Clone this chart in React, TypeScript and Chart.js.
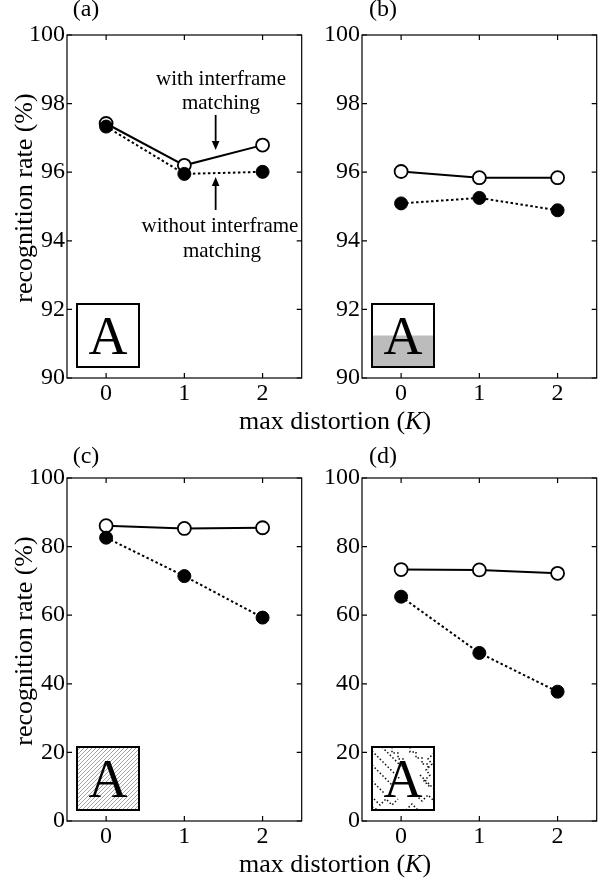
import React, { useEffect, useRef } from 'react';
import { Chart, registerables } from 'chart.js';

Chart.register(...registerables);

const FONT = '"Liberation Serif", "Times New Roman", serif';

// ---- data ----
const K_VALUES = [0, 1, 2];
const X_TICKS = [0, 1, 2];
const Y_TICKS_TOP = [90, 92, 94, 96, 98, 100];
const Y_TICKS_BOTTOM = [0, 20, 40, 60, 80, 100];

const A_WITH = [97.42, 96.2, 96.79];
const A_WITHOUT = [97.33, 95.95, 96.01];
const B_WITH = [96.02, 95.84, 95.84];
const B_WITHOUT = [95.09, 95.25, 94.89];
const C_WITH = [86.1, 85.3, 85.5];
const C_WITHOUT = [82.6, 71.4, 59.3];
const D_WITH = [73.3, 73.2, 72.2];
const D_WITHOUT = [65.4, 49.0, 37.7];

const PANEL_LABELS = ['(a)', '(b)', '(c)', '(d)'];
const Y_TITLE = 'recognition rate (%)';
const ANNOT_WITH = ['with interframe', 'matching'];
const ANNOT_WITHOUT = ['without interframe', 'matching'];
// arrows in (a): [x, from y, to y (tip)]
const ARROWS_A = [
  [1.4, 97.67, 96.65],
  [1.4, 94.9, 95.86],
];

type PanelCfg = {
  left: number; top: number; w: number; h: number;
  padTop: number; padRight: number; yAxisW: number; xAxisH: number;
  yMin: number; yMax: number; yTicks: number[];
  withData: number[]; withoutData: number[];
  inset: string; arrows: number[][];
};

const PANELS: PanelCfg[] = [
  { left: 0, top: 0, w: 310, h: 440, padTop: 35, padRight: 3, yAxisW: 67, xAxisH: 62, yMin: 90, yMax: 100, yTicks: Y_TICKS_TOP, withData: A_WITH, withoutData: A_WITHOUT, inset: 'plain', arrows: ARROWS_A },
  { left: 295, top: 0, w: 310, h: 440, padTop: 35, padRight: 3, yAxisW: 67, xAxisH: 62, yMin: 90, yMax: 100, yTicks: Y_TICKS_TOP, withData: B_WITH, withoutData: B_WITHOUT, inset: 'gray', arrows: [] },
  { left: 0, top: 443, w: 310, h: 435, padTop: 35, padRight: 3, yAxisW: 67, xAxisH: 57, yMin: 0, yMax: 100, yTicks: Y_TICKS_BOTTOM, withData: C_WITH, withoutData: C_WITHOUT, inset: 'hatch', arrows: [] },
  { left: 295, top: 443, w: 310, h: 435, padTop: 35, padRight: 3, yAxisW: 67, xAxisH: 57, yMin: 0, yMax: 100, yTicks: Y_TICKS_BOTTOM, withData: D_WITH, withoutData: D_WITHOUT, inset: 'maze', arrows: [] },
];

const MAZE_PATHS = [
  [[0, 4], [28, 32]],
  [[0, 18], [20, 38]],
  [[0, 34], [12, 46]],
  [[20, 0], [20, 6], [26, 6], [26, 12], [32, 12], [32, 18]],
  [[38, 0], [38, 5], [44, 5], [44, 11], [50, 11], [50, 17], [56, 17], [56, 23]],
  [[62, 6], [56, 12], [60, 17], [54, 23], [58, 28], [52, 34], [58, 40]],
  [[2, 52], [8, 58], [14, 52], [20, 58], [26, 52]],
  [[34, 63], [40, 57], [46, 63]],
  [[44, 48], [50, 54], [56, 48], [62, 54]],
  [[10, 0], [36, 26]],
  [[0, 60], [6, 63]],
  [[48, 28], [62, 42]],
];

function drawInset(ctx: CanvasRenderingContext2D, ca: any, kind: string) {
  const bw = 62, bh = 63;
  const bx = ca.left + 10;
  const by = ca.bottom - 11 - bh;
  ctx.save();
  ctx.fillStyle = '#fff';
  ctx.fillRect(bx, by, bw, bh);
  ctx.beginPath();
  ctx.rect(bx, by, bw, bh);
  ctx.clip();
  if (kind === 'gray') {
    ctx.fillStyle = '#bcbcbc';
    ctx.fillRect(bx, by + bh / 2, bw, bh / 2);
  } else if (kind === 'hatch') {
    ctx.strokeStyle = '#8a8a8a';
    ctx.lineWidth = 0.8;
    ctx.beginPath();
    for (let d = -bh; d < bw + 4; d += 4) {
      ctx.moveTo(bx + d, by + bh);
      ctx.lineTo(bx + d + bh, by);
    }
    ctx.stroke();
  } else if (kind === 'maze') {
    ctx.strokeStyle = '#111';
    ctx.lineWidth = 1.5;
    ctx.setLineDash([1.5, 2.2]);
    for (const p of MAZE_PATHS) {
      ctx.beginPath();
      p.forEach(([px, py], i) => {
        if (i === 0) ctx.moveTo(bx + px, by + py);
        else ctx.lineTo(bx + px, by + py);
      });
      ctx.stroke();
    }
    ctx.setLineDash([]);
  }
  ctx.fillStyle = '#000';
  ctx.font = `54px ${FONT}`;
  ctx.textAlign = 'center';
  ctx.textBaseline = 'alphabetic';
  ctx.fillText('A', bx + bw / 2, by + bh - 13);
  ctx.restore();
  ctx.save();
  ctx.lineWidth = 2;
  ctx.strokeStyle = '#000';
  ctx.strokeRect(bx, by, bw, bh);
  ctx.restore();
}

const decorPlugin = {
  id: 'panelDecor',
  beforeDatasetsDraw(chart: any, _args: any, opts: any) {
    const ctx = chart.ctx as CanvasRenderingContext2D;
    const ca = chart.chartArea;
    const xs = chart.scales.x;
    const ys = chart.scales.y;
    ctx.save();
    ctx.strokeStyle = '#000';
    ctx.lineWidth = 1.2;
    ctx.strokeRect(ca.left, ca.top, ca.right - ca.left, ca.bottom - ca.top);
    const tl = 5;
    ctx.beginPath();
    for (const t of xs.ticks) {
      const px = xs.getPixelForValue(t.value);
      ctx.moveTo(px, ca.bottom); ctx.lineTo(px, ca.bottom - tl);
      ctx.moveTo(px, ca.top); ctx.lineTo(px, ca.top + tl);
    }
    for (const t of ys.ticks) {
      const py = ys.getPixelForValue(t.value);
      ctx.moveTo(ca.left, py); ctx.lineTo(ca.left + tl, py);
      ctx.moveTo(ca.right, py); ctx.lineTo(ca.right - tl, py);
    }
    ctx.stroke();
    ctx.restore();
    drawInset(ctx, ca, opts.inset);
  },
  afterDatasetsDraw(chart: any, _args: any, opts: any) {
    const arrows: number[][] = opts.arrows || [];
    if (!arrows.length) return;
    const ctx = chart.ctx as CanvasRenderingContext2D;
    const xs = chart.scales.x;
    const ys = chart.scales.y;
    ctx.save();
    ctx.strokeStyle = '#000';
    ctx.fillStyle = '#000';
    ctx.lineWidth = 1.8;
    for (const [x, y0, y1] of arrows) {
      const px = xs.getPixelForValue(x);
      const p0 = ys.getPixelForValue(y0);
      const p1 = ys.getPixelForValue(y1);
      const dir = p1 > p0 ? 1 : -1;
      const head = 9;
      ctx.beginPath();
      ctx.moveTo(px, p0);
      ctx.lineTo(px, p1 - dir * head);
      ctx.stroke();
      ctx.beginPath();
      ctx.moveTo(px, p1);
      ctx.lineTo(px - 3.8, p1 - dir * head);
      ctx.lineTo(px + 3.8, p1 - dir * head);
      ctx.closePath();
      ctx.fill();
    }
    ctx.restore();
  },
};

function Panel({ cfg }: { cfg: PanelCfg }) {
  const ref = useRef<HTMLCanvasElement | null>(null);
  useEffect(() => {
    if (!ref.current) return;
    const tickFont = { family: FONT, size: 24 };
    const chart = new Chart(ref.current, {
      type: 'line',
      data: {
        datasets: [
          {
            label: 'without interframe matching',
            data: K_VALUES.map((k, i) => ({ x: k, y: cfg.withoutData[i] })),
            borderColor: '#000',
            borderWidth: 2,
            borderDash: [2.5, 2.5],
            pointRadius: 6.5,
            pointBackgroundColor: '#000',
            pointBorderColor: '#000',
            pointBorderWidth: 1,
            order: 0,
            clip: false,
          } as any,
          {
            label: 'with interframe matching',
            data: K_VALUES.map((k, i) => ({ x: k, y: cfg.withData[i] })),
            borderColor: '#000',
            borderWidth: 2,
            pointRadius: 6.5,
            pointBackgroundColor: '#fff',
            pointBorderColor: '#000',
            pointBorderWidth: 1.8,
            order: 1,
            clip: false,
          } as any,
        ],
      },
      options: {
        responsive: false,
        animation: false,
        devicePixelRatio: 1,
        layout: { padding: { left: 0, top: cfg.padTop, right: cfg.padRight, bottom: 0 } },
        plugins: {
          legend: { display: false },
          tooltip: { enabled: false },
          panelDecor: { inset: cfg.inset, arrows: cfg.arrows },
        } as any,
        scales: {
          x: {
            type: 'linear',
            min: -0.5,
            max: 2.5,
            afterBuildTicks: (s: any) => { s.ticks = X_TICKS.map((v) => ({ value: v })); },
            afterFit: (s: any) => {
              s.height = cfg.xAxisH;
              s.paddingLeft = 0; s.paddingRight = 0; s.paddingTop = 0; s.paddingBottom = 0;
            },
            grid: { display: false, drawTicks: false },
            border: { display: false },
            ticks: { font: tickFont, color: '#000', padding: 1, maxRotation: 0, autoSkip: false },
          },
          y: {
            type: 'linear',
            min: cfg.yMin,
            max: cfg.yMax,
            afterBuildTicks: (s: any) => { s.ticks = cfg.yTicks.map((v) => ({ value: v })); },
            afterFit: (s: any) => {
              s.width = cfg.yAxisW;
              s.paddingLeft = 0; s.paddingRight = 0; s.paddingTop = 0; s.paddingBottom = 0;
            },
            grid: { display: false, drawTicks: false },
            border: { display: false },
            ticks: { font: tickFont, color: '#000', padding: 2, autoSkip: false },
          },
        },
      } as any,
      plugins: [decorPlugin as any],
    });
    return () => chart.destroy();
  }, []);
  return (
    <canvas
      ref={ref}
      width={cfg.w}
      height={cfg.h}
      style={{ position: 'absolute', left: cfg.left, top: cfg.top, width: cfg.w, height: cfg.h }}
    />
  );
}

function Txt({ x, y, size, rotate, children }: { x: number; y: number; size: number; rotate?: boolean; children: any }) {
  return (
    <div
      style={{
        position: 'absolute',
        left: x,
        top: y,
        transform: `translate(-50%, -50%)${rotate ? ' rotate(-90deg)' : ''}`,
        fontFamily: FONT,
        fontSize: size,
        lineHeight: 1,
        whiteSpace: 'nowrap',
        color: '#000',
      }}
    >
      {children}
    </div>
  );
}

export default function App() {
  return (
    <div style={{ position: 'absolute', left: 0, top: 0, width: 605, height: 878, overflow: 'hidden', background: '#fff' }}>
      {PANELS.map((p, i) => <Panel key={i} cfg={p} />)}
      <Txt x={86} y={8} size={24}>{PANEL_LABELS[0]}</Txt>
      <Txt x={383} y={8} size={24}>{PANEL_LABELS[1]}</Txt>
      <Txt x={86} y={455} size={24}>{PANEL_LABELS[2]}</Txt>
      <Txt x={383} y={455} size={24}>{PANEL_LABELS[3]}</Txt>
      <Txt x={335} y={421} size={26}>max distortion (<i>K</i>)</Txt>
      <Txt x={335} y={864} size={26}>max distortion (<i>K</i>)</Txt>
      <Txt x={24} y={198} size={26} rotate>{Y_TITLE}</Txt>
      <Txt x={24} y={641} size={26} rotate>{Y_TITLE}</Txt>
      <Txt x={221} y={78} size={21}>{ANNOT_WITH[0]}</Txt>
      <Txt x={221} y={102} size={21}>{ANNOT_WITH[1]}</Txt>
      <Txt x={220} y={225} size={21}>{ANNOT_WITHOUT[0]}</Txt>
      <Txt x={222} y={250} size={21}>{ANNOT_WITHOUT[1]}</Txt>
    </div>
  );
}
